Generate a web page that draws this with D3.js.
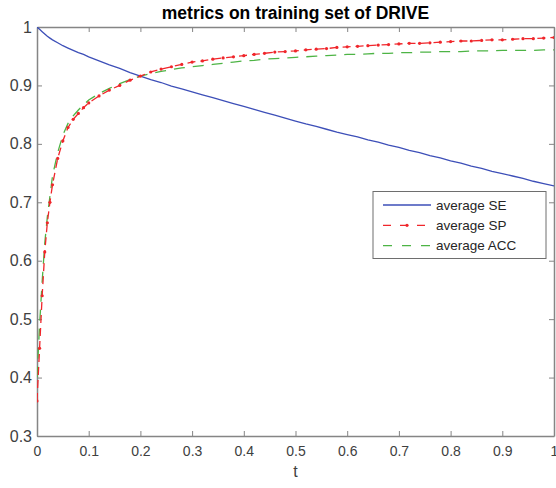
<!DOCTYPE html>
<html>
<head>
<meta charset="utf-8">
<script src="https://cdn.jsdelivr.net/npm/d3@7"></script>
<style>
  body { margin: 0; background: #fff; }
  text { font-family: "Liberation Sans", Arial, Helvetica, sans-serif; }
</style>
</head>
<body>
<svg class="chart" width="556" height="488"></svg>
<script>
// values
const tValues = [0, 0.005, 0.01, 0.015, 0.02, 0.025, 0.03, 0.04, 0.05, 0.06, 0.07, 0.08, 0.09, 0.10,
  0.12, 0.14, 0.16, 0.18, 0.20, 0.22, 0.24, 0.26, 0.28, 0.30, 0.32, 0.34, 0.36, 0.38, 0.40,
  0.42, 0.44, 0.46, 0.48, 0.50, 0.52, 0.54, 0.56, 0.58, 0.60, 0.62, 0.64, 0.66, 0.68, 0.70,
  0.72, 0.74, 0.76, 0.78, 0.80, 0.82, 0.84, 0.86, 0.88, 0.90, 0.92, 0.94, 0.96, 0.98, 1.00];

const seValues = [1.000, 0.996, 0.992, 0.988, 0.984, 0.981, 0.978, 0.973, 0.968, 0.964, 0.960, 0.956, 0.953, 0.949,
  0.942, 0.935, 0.929, 0.922, 0.916, 0.910, 0.905, 0.899, 0.894, 0.889, 0.884, 0.879, 0.874, 0.869, 0.864,
  0.859, 0.854, 0.849, 0.844, 0.839, 0.834, 0.830, 0.825, 0.820, 0.816, 0.812, 0.807, 0.803, 0.798, 0.794,
  0.789, 0.785, 0.780, 0.776, 0.771, 0.767, 0.762, 0.758, 0.753, 0.749, 0.745, 0.741, 0.736, 0.732, 0.728];

const spValues = [0.360, 0.450, 0.540, 0.615, 0.665, 0.700, 0.730, 0.775, 0.805, 0.828, 0.842, 0.852, 0.862, 0.870,
  0.882, 0.892, 0.900, 0.909, 0.916, 0.923, 0.928, 0.932, 0.936, 0.940, 0.942, 0.945, 0.947, 0.949, 0.951,
  0.953, 0.955, 0.957, 0.958, 0.959, 0.961, 0.962, 0.963, 0.965, 0.966, 0.967, 0.968, 0.969, 0.970, 0.971,
  0.972, 0.972, 0.973, 0.974, 0.975, 0.976, 0.976, 0.977, 0.978, 0.978, 0.979, 0.980, 0.980, 0.981, 0.982];

const accValues = [0.400, 0.490, 0.565, 0.630, 0.675, 0.710, 0.745, 0.785, 0.815, 0.835, 0.848, 0.858, 0.867, 0.875,
  0.886, 0.895, 0.903, 0.910, 0.916, 0.920, 0.924, 0.927, 0.930, 0.932, 0.934, 0.936, 0.938, 0.940, 0.942,
  0.943, 0.945, 0.946, 0.947, 0.948, 0.949, 0.950, 0.951, 0.952, 0.953, 0.953, 0.954, 0.955, 0.955, 0.956,
  0.956, 0.957, 0.957, 0.958, 0.958, 0.958, 0.959, 0.959, 0.959, 0.960, 0.960, 0.960, 0.960, 0.961, 0.961];

const xTicks = [0, 0.1, 0.2, 0.3, 0.4, 0.5, 0.6, 0.7, 0.8, 0.9, 1];
const yTicks = [0.3, 0.4, 0.5, 0.6, 0.7, 0.8, 0.9, 1];
const legendLabels = ["average SE", "average SP", "average ACC"];

const axisColor = "#858585";
const textColor = "#404040";
const seColor = "#3d4fb8", spColor = "#f0262b", accColor = "#4db445";

var svg = d3.select(".chart");

const box = {left: 37, right: 554, top: 27, bottom: 436};

const x = d3.scaleLinear().domain([0, 1]).range([box.left, box.right]);
const y = d3.scaleLinear().domain([0.3, 1]).range([box.bottom, box.top]);

// clip curves to the axes box
svg.append("clipPath").attr("id", "plotclip")
  .append("rect")
    .attr("x", box.left).attr("y", box.top)
    .attr("width", box.right - box.left).attr("height", box.bottom - box.top);

const fmt = d => d === 0 || d === 1 ? String(d) : d3.format(".1f")(d);

// axes (ticks point inward, box on all four sides)
const gx = svg.append("g").attr("transform", `translate(0,${box.bottom})`)
  .call(d3.axisBottom(x).tickValues(xTicks).tickFormat(fmt).tickSizeInner(-5).tickSizeOuter(0).tickPadding(10));
const gy = svg.append("g").attr("transform", `translate(${box.left},0)`)
  .call(d3.axisLeft(y).tickValues(yTicks).tickFormat(fmt).tickSizeInner(-5).tickSizeOuter(0).tickPadding(5));
const gt = svg.append("g").attr("transform", `translate(0,${box.top})`)
  .call(d3.axisTop(x).tickValues(xTicks).tickFormat("").tickSizeInner(-5).tickSizeOuter(0));
const gr = svg.append("g").attr("transform", `translate(${box.right},0)`)
  .call(d3.axisRight(y).tickValues(yTicks).tickFormat("").tickSizeInner(-5).tickSizeOuter(0));

[gx, gy, gt, gr].forEach(g => {
  g.select(".domain").attr("stroke", axisColor).attr("stroke-width", 1.5);
  g.selectAll(".tick line").attr("stroke", axisColor).attr("stroke-width", 1);
  g.selectAll(".tick text").attr("fill", textColor).style("font-size", "14px");
});
gy.selectAll(".tick text").style("font-size", "16px");

const line = vals => d3.line()
  .x((d, i) => x(tValues[i]))
  .y(d => y(d))(vals);

const plot = svg.append("g").attr("clip-path", "url(#plotclip)");

plot.append("path")
  .attr("d", line(seValues))
  .attr("fill", "none")
  .attr("stroke", seColor)
  .attr("stroke-width", 1.3);

plot.append("path")
  .attr("d", line(accValues))
  .attr("fill", "none")
  .attr("stroke", accColor)
  .attr("stroke-width", 1.3)
  .attr("stroke-dasharray", "11,8");

plot.append("path")
  .attr("d", line(spValues))
  .attr("fill", "none")
  .attr("stroke", spColor)
  .attr("stroke-width", 1.3)
  .attr("stroke-dasharray", "8,5");

plot.selectAll("circle.sp").data(spValues)
  .enter().append("circle")
    .attr("class", "sp")
    .attr("cx", (d, i) => x(tValues[i]))
    .attr("cy", d => y(d))
    .attr("r", 1.6)
    .attr("fill", spColor);

// title and axis label
svg.append("text")
  .attr("x", (box.left + box.right) / 2).attr("y", 18.5)
  .attr("text-anchor", "middle")
  .attr("fill", "#000")
  .style("font-size", "17.5px").style("font-weight", "bold")
  .text("metrics on training set of DRIVE");

svg.append("text")
  .attr("x", (box.left + box.right) / 2).attr("y", 477)
  .attr("text-anchor", "middle")
  .attr("fill", textColor)
  .style("font-size", "16px")
  .text("t");

// legend
const legend = svg.append("g").attr("transform", "translate(373,191.5)");
legend.append("rect")
  .attr("width", 173).attr("height", 67)
  .attr("fill", "#fff").attr("stroke", "#6e6e6e").attr("stroke-width", 1);

const styles = [
  {color: seColor, dash: null, dot: false},
  {color: spColor, dash: "8,9", dot: true},
  {color: accColor, dash: "9,10", dot: false}
];

const rows = legend.selectAll("g.row").data(legendLabels)
  .enter().append("g")
    .attr("class", "row")
    .attr("transform", (d, i) => `translate(0,${13.5 + i * 20.3})`);

rows.append("line")
  .attr("x1", 10).attr("x2", 58)
  .attr("stroke", (d, i) => styles[i].color)
  .attr("stroke-width", 1.3)
  .attr("stroke-dasharray", (d, i) => styles[i].dash);

rows.filter((d, i) => styles[i].dot).append("circle")
  .attr("cx", 34).attr("r", 1.6).attr("fill", spColor);

rows.append("text")
  .attr("x", 63).attr("dy", "0.35em")
  .attr("fill", "#262626")
  .style("font-size", "13.5px")
  .text(d => d);
</script>
</body>
</html>
